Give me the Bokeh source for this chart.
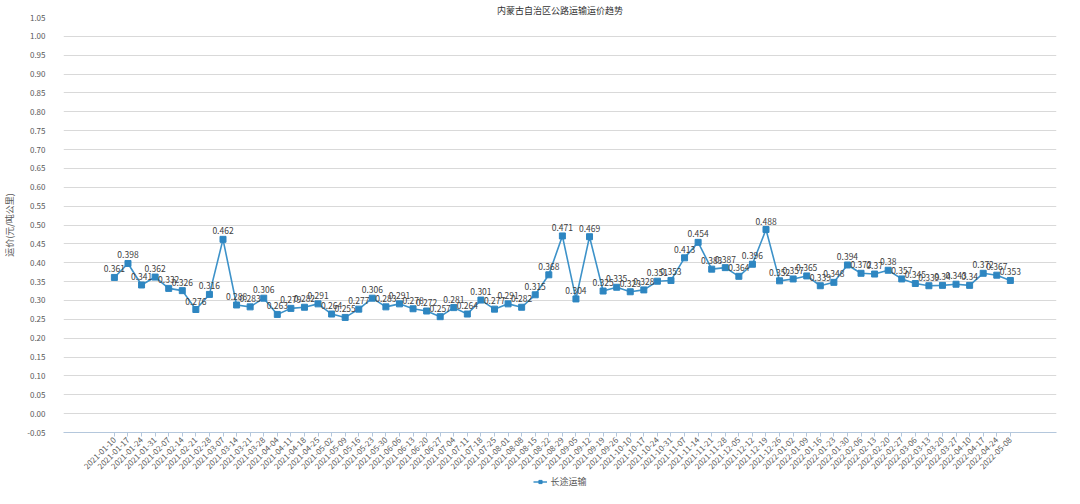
from bokeh.plotting import figure
from bokeh.models import (Range1d, FixedTicker, PrintfTickFormatter, ColumnDataSource,
                          Legend, LegendItem)
from bokeh.layouts import column
from bokeh.core.properties import value
from bokeh.embed import file_html
from bokeh.resources import INLINE
import math

dates = ["2021-01-10", "2021-01-17", "2021-01-24", "2021-01-31", "2021-02-07", "2021-02-14",
         "2021-02-21", "2021-02-28", "2021-03-07", "2021-03-14", "2021-03-21", "2021-03-28",
         "2021-04-04", "2021-04-11", "2021-04-18", "2021-04-25", "2021-05-02", "2021-05-09",
         "2021-05-16", "2021-05-23", "2021-05-30", "2021-06-06", "2021-06-13", "2021-06-20",
         "2021-06-27", "2021-07-04", "2021-07-11", "2021-07-18", "2021-07-25", "2021-08-01",
         "2021-08-08", "2021-08-15", "2021-08-22", "2021-08-29", "2021-09-05", "2021-09-12",
         "2021-09-19", "2021-09-26", "2021-10-10", "2021-10-17", "2021-10-24", "2021-10-31",
         "2021-11-07", "2021-11-14", "2021-11-21", "2021-11-28", "2021-12-05", "2021-12-12",
         "2021-12-19", "2021-12-26", "2022-01-02", "2022-01-09", "2022-01-16", "2022-01-23",
         "2022-01-30", "2022-02-06", "2022-02-13", "2022-02-20", "2022-02-27", "2022-03-06",
         "2022-03-13", "2022-03-20", "2022-03-27", "2022-04-10", "2022-04-17", "2022-04-24",
         "2022-05-08"]

prices = [0.361, 0.398, 0.341, 0.362, 0.332, 0.326, 0.276, 0.316, 0.462, 0.288,
          0.283, 0.306, 0.263, 0.279, 0.282, 0.291, 0.264, 0.255, 0.277, 0.306,
          0.283, 0.291, 0.278, 0.272, 0.257, 0.281, 0.264, 0.301, 0.277, 0.291,
          0.282, 0.315, 0.368, 0.471, 0.304, 0.469, 0.325, 0.335, 0.323, 0.328,
          0.351, 0.353, 0.413, 0.454, 0.383, 0.387, 0.364, 0.396, 0.488, 0.352,
          0.357, 0.365, 0.339, 0.348, 0.394, 0.372, 0.37, 0.38, 0.357, 0.345,
          0.339, 0.34, 0.343, 0.34, 0.372, 0.367, 0.353]

series_name = "长途运输"
title_text = "内蒙古自治区公路运输运价趋势"
y_label = "运价(元/吨公里)"

FONT = "Noto Sans CJK SC"
LINE_COLOR = "#3d92c9"
MARK_COLOR = "#2e86c1"

idx = list(range(len(dates)))
src = ColumnDataSource(dict(x=idx, y=prices, lbl=[str(v) for v in prices]))

p = figure(width=1064, height=474, output_backend="svg", toolbar_location=None,
           x_range=Range1d(-3.75, 69.4), y_range=Range1d(-0.05, 1.05),
           min_border_left=50, min_border_right=8, min_border_top=14, min_border_bottom=40)

p.title.text = title_text
p.title.align = "center"
p.title.text_font = FONT
p.title.text_font_size = "9px"
p.title.text_font_style = "normal"
p.title.text_color = "#333333"
p.title.standoff = 2

p.outline_line_color = None
p.xgrid.grid_line_color = None
p.ygrid.grid_line_color = "#d9d9d9"
p.ygrid.grid_line_width = 1

yticks = [round(-0.05 + 0.05 * k, 2) for k in range(23)]
p.yaxis.ticker = FixedTicker(ticks=yticks)
p.yaxis.formatter = PrintfTickFormatter(format="%.2f")
p.yaxis.axis_line_color = None
p.yaxis.major_tick_line_color = None
p.yaxis.minor_tick_line_color = None
p.yaxis.major_label_standoff = 12
p.yaxis.major_label_text_font = FONT
p.yaxis.major_label_text_font_size = "8px"
p.yaxis.major_label_text_color = "#595959"
p.yaxis.axis_label = y_label
p.yaxis.axis_label_text_font = FONT
p.yaxis.axis_label_text_font_size = "9px"
p.yaxis.axis_label_text_font_style = "normal"
p.yaxis.axis_label_text_color = "#595959"
p.yaxis.axis_label_standoff = 8

p.xaxis.ticker = FixedTicker(ticks=idx)
p.xaxis.major_label_overrides = {i: d for i, d in enumerate(dates)}
p.xaxis.major_label_orientation = math.pi / 4
p.xaxis.major_label_text_font = FONT
p.xaxis.major_label_text_font_size = "8px"
p.xaxis.major_label_text_color = "#595959"
p.xaxis.axis_line_color = "#b4c7dc"
p.xaxis.major_tick_line_color = "#b4c7dc"
p.xaxis.major_tick_in = 0
p.xaxis.major_tick_out = 4
p.xaxis.minor_tick_line_color = None
p.xaxis.major_label_standoff = 2

p.line("x", "y", source=src, line_color=LINE_COLOR, line_width=1.6)
p.scatter("x", "y", source=src, marker="square", size=6,
          fill_color=MARK_COLOR, line_color=MARK_COLOR)
p.text("x", "y", text="lbl", source=src, y_offset=-5, text_align="center",
       text_baseline="bottom", text_font=value(FONT), text_font_size="8.5px",
       text_color="#404040")

# legend strip below the chart (its series glyphs sit outside this strip's view)
lg = figure(width=1064, height=14, output_backend="svg", toolbar_location=None,
            x_range=Range1d(100, 101), y_range=Range1d(100, 101),
            x_axis_location=None, y_axis_location=None,
            min_border_left=0, min_border_right=0, min_border_top=0, min_border_bottom=0)
lg.outline_line_color = None
lg.xgrid.grid_line_color = None
lg.ygrid.grid_line_color = None
l_ln = lg.line("x", "y", source=src, line_color=LINE_COLOR, line_width=1.6)
l_sq = lg.scatter("x", "y", source=src, marker="square", size=6,
                  fill_color=MARK_COLOR, line_color=MARK_COLOR)
legend = Legend(items=[LegendItem(label=series_name, renderers=[l_ln, l_sq])],
                location="center", orientation="horizontal",
                label_text_font=FONT, label_text_font_size="9px",
                label_text_color="#595959", background_fill_alpha=0,
                border_line_color=None, glyph_width=14, glyph_height=8,
                label_height=10, label_standoff=4, padding=1, margin=0)
lg.add_layout(legend, "center")

layout = column(p, lg, spacing=0)
open("out.html", "w").write(file_html(layout, INLINE))
